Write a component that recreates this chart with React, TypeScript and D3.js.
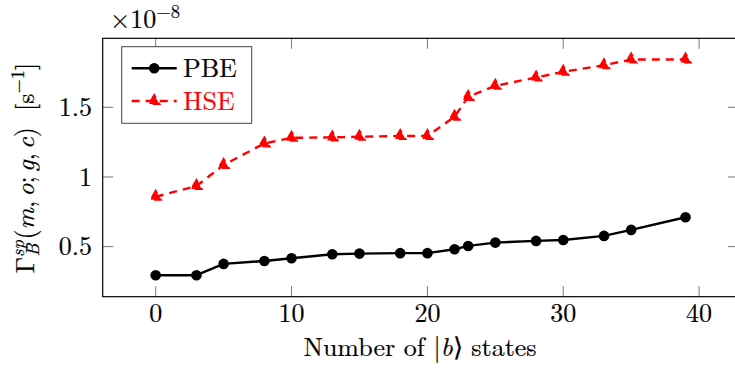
import React from "react";
import * as d3 from "d3";

const states = [0, 3, 5, 8, 10, 13, 15, 18, 20, 22, 23, 25, 28, 30, 33, 35, 39];
const pbe = [0.295, 0.295, 0.376, 0.397, 0.417, 0.445, 0.45, 0.453, 0.453, 0.481, 0.505, 0.529, 0.541, 0.548, 0.577, 0.62, 0.711];
const hse = [0.858, 0.935, 1.086, 1.241, 1.281, 1.284, 1.289, 1.294, 1.294, 1.432, 1.575, 1.654, 1.714, 1.755, 1.802, 1.843, 1.843];
const xTicks = [0, 10, 20, 30, 40];
const yTicks = [0.5, 1, 1.5];
const yTickLabels = ["0.5", "1", "1.5"];
const seriesNames = ["PBE", "HSE"];

const W = 735;
const H = 371;
const FONT = "'Latin Modern Roman', 'Liberation Serif', serif";
const FS = 26;
const SS = 18.5;

export default function App() {
  const left = 102.7;
  const right = 738.5;
  const top = 38.3;
  const bottom = 296.7;

  const x = d3.scaleLinear().domain([-3.9, 42.9]).range([left, right]);
  const y = d3.scaleLinear().domain([0.1405, 1.9955]).range([bottom, top]);

  const pbeData = states.map((s, i) => [s, pbe[i]] as [number, number]);
  const hseData = states.map((s, i) => [s, hse[i]] as [number, number]);

  const line = d3
    .line<[number, number]>()
    .x((d) => x(d[0]))
    .y((d) => y(d[1]));

  const tickLen = 10.5;
  const tickColor = "#7a7a7a";
  const red = "#ff0000";
  const dash = "8,6";
  const ts = { fontFamily: FONT } as React.CSSProperties;
  const tw = 0.2;

  const tri = (cx: number, cy: number, key: string | number) => {
    const r = 6;
    const p = d3.path();
    p.moveTo(cx, cy - r);
    p.lineTo(cx - r * 0.866, cy + r * 0.5);
    p.lineTo(cx + r * 0.866, cy + r * 0.5);
    p.closePath();
    return (
      <path key={key} d={p.toString()} fill={red} stroke={red} strokeWidth={2} strokeDasharray={dash} strokeLinejoin="miter" />
    );
  };

  // legend
  const lgX = 121.7;
  const lgY = 46.7;
  const lgW = 130;
  const lgH = 76.6;
  const row1 = 68.3;
  const row2 = 101;
  const lx0 = 131.7;
  const lx1 = 176.7;
  const lmid = (lx0 + lx1) / 2;

  return (
    <svg width={W} height={H} style={{ position: "absolute", left: 0, top: 0, background: "#fff" }}>
      <defs>
        <clipPath id="plotclip">
          <rect x={left} y={top} width={right - left} height={bottom - top} />
        </clipPath>
      </defs>
      <rect x={0} y={0} width={W} height={H} fill="#fff" />

      {/* ticks on all sides */}
      {xTicks.map((t) => (
        <g key={"xt" + t}>
          <line x1={x(t)} x2={x(t)} y1={bottom} y2={bottom - tickLen} stroke={tickColor} strokeWidth={1} />
          <line x1={x(t)} x2={x(t)} y1={top} y2={top + tickLen} stroke={tickColor} strokeWidth={1} />
          <text style={ts} x={x(t)} y={321.5} textAnchor="middle" fontSize={FS} fill="#000" stroke="#000" strokeWidth={tw}>
            {t}
          </text>
        </g>
      ))}
      {yTicks.map((t, i) => (
        <g key={"yt" + t}>
          <line x1={left} x2={left + tickLen} y1={y(t)} y2={y(t)} stroke={tickColor} strokeWidth={1} />
          <line x1={right} x2={right - tickLen} y1={y(t)} y2={y(t)} stroke={tickColor} strokeWidth={1} />
          <text style={ts} x={92} y={y(t) + 8.6} textAnchor="end" fontSize={FS} fill="#000" stroke="#000" strokeWidth={tw}>
            {yTickLabels[i]}
          </text>
        </g>
      ))}

      {/* frame */}
      <rect x={left} y={top} width={right - left} height={bottom - top} fill="none" stroke="#000" strokeWidth={1.2} />

      {/* series */}
      <g clipPath="url(#plotclip)">
        <path d={line(pbeData) || ""} fill="none" stroke="#000" strokeWidth={2.4} strokeLinejoin="round" />
        {pbeData.map((d, i) => (
          <circle key={"p" + i} cx={x(d[0])} cy={y(d[1])} r={5.3} fill="#000" />
        ))}
        <path d={line(hseData) || ""} fill="none" stroke={red} strokeWidth={2.4} strokeDasharray={dash} />
        {hseData.map((d, i) => tri(x(d[0]), y(d[1]), "h" + i))}
      </g>

      {/* legend */}
      <rect x={lgX} y={lgY} width={lgW} height={lgH} fill="#fff" stroke="#444" strokeWidth={1} />
      <line x1={lx0} x2={lx1} y1={row1} y2={row1} stroke="#000" strokeWidth={2.4} />
      <circle cx={lmid} cy={row1} r={5.3} fill="#000" />
      <text style={ts} x={183} y={row1 + 8.5} fontSize={FS} fill="#000" stroke="#000" strokeWidth={tw}>
        {seriesNames[0]}
      </text>
      <line x1={lx0} x2={lx1} y1={row2} y2={row2} stroke={red} strokeWidth={2.4} strokeDasharray={dash} />
      {tri(lmid, row2, "lt")}
      <text style={ts} x={183} y={row2 + 8.5} fontSize={FS} fill={red} stroke={red} strokeWidth={tw}>
        {seriesNames[1]}
      </text>

      {/* scale factor */}
      <text style={ts} x={110} y={27.5} fontSize={FS} fill="#000" stroke="#000" strokeWidth={tw}>
        ×10
        <tspan fontSize={SS} dy={-10}>
          −8
        </tspan>
      </text>

      {/* x label */}
      <text style={ts} x={420} y={356} textAnchor="middle" fontSize={FS} fill="#000" stroke="#000" strokeWidth={tw}>
        Number of |<tspan fontStyle="italic">b</tspan>⟩ states
      </text>

      {/* y label */}
      <text
        style={ts}
        transform="translate(34,168) rotate(-90)"
        textAnchor="middle"
        fontSize={FS}
        fill="#000"
        stroke="#000"
        strokeWidth={tw}
      >
        Γ
        <tspan fontSize={SS} fontStyle="italic" dy={-10}>
          sp
        </tspan>
        <tspan fontSize={SS} fontStyle="italic" dx={-16.5} dy={15}>
          B
        </tspan>
        <tspan dx={4} dy={-5}>
          (
        </tspan>
        <tspan fontStyle="italic">m</tspan>,<tspan dx={4} fontStyle="italic">o</tspan>;<tspan dx={4} fontStyle="italic">g</tspan>,
        <tspan dx={4} fontStyle="italic">c</tspan>)<tspan dx={16}>[s</tspan>
        <tspan fontSize={SS} dy={-10}>
          −1
        </tspan>
        <tspan dy={10}>]</tspan>
      </text>
    </svg>
  );
}
